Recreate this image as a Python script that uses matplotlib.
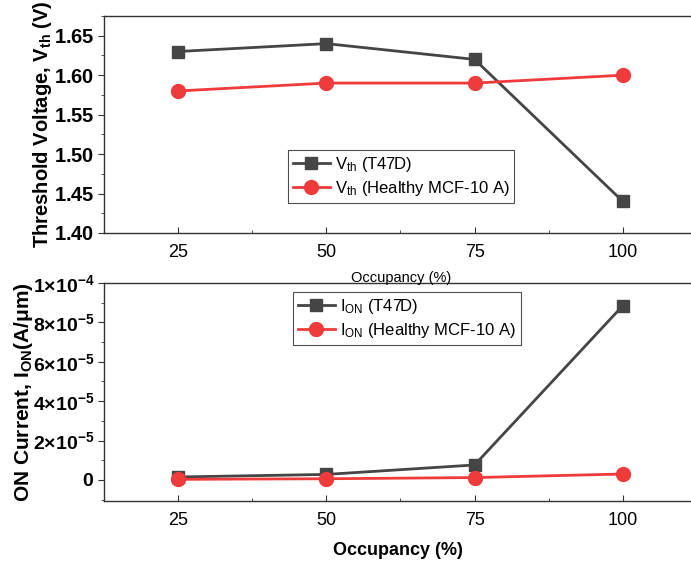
import matplotlib
matplotlib.use("Agg")
import math
import matplotlib.pyplot as plt
from matplotlib.ticker import MultipleLocator, FuncFormatter

plt.rcParams['font.family'] = ['Liberation Sans', 'DejaVu Sans']
plt.rcParams['mathtext.fontset'] = 'custom'
plt.rcParams['mathtext.rm'] = 'Liberation Sans'
plt.rcParams['mathtext.it'] = 'Liberation Sans:italic'
plt.rcParams['mathtext.bf'] = 'Liberation Sans:bold'

occupancy = [25, 50, 75, 100]
vth_t47d = [1.63, 1.64, 1.62, 1.44]
vth_healthy = [1.58, 1.59, 1.59, 1.60]
ion_t47d = [1.5e-6, 2.8e-6, 7.6e-6, 8.85e-5]
ion_healthy = [0.3e-6, 0.6e-6, 1.2e-6, 3.0e-6]
x_ticks = [25, 50, 75, 100]

GREY = '#454545'
RED = '#ef3b3b'

fig = plt.figure(figsize=(6.91, 5.65), dpi=100)
ax1 = fig.add_axes([104/691, 1-233/565, 1-104/691, (233-16)/565])
ax2 = fig.add_axes([104/691, 1-501/565, 1-104/691, (501-283)/565])

for ax in (ax1, ax2):
    ax.spines['right'].set_visible(False)
    for s in ('left', 'top', 'bottom'):
        ax.spines[s].set_color('#333333')
        ax.spines[s].set_linewidth(1.0)
    ax.set_xlim(12.5, 111.5)
    ax.set_xticks(x_ticks)
    ax.xaxis.set_minor_locator(MultipleLocator(12.5))
    ax.tick_params(axis='x', which='major', direction='in', length=4, labelsize=13, pad=8, color='#333333')
    ax.tick_params(axis='x', which='minor', direction='in', length=2.5, color='#333333')
    ax.tick_params(axis='y', which='major', direction='out', length=4, labelsize=14.5, pad=3, color='#333333')
    ax.tick_params(axis='y', which='minor', direction='out', length=2.5, color='#333333')
    ax.tick_params(top=False, right=False, which='both')

# Top panel
ax1.plot(occupancy, vth_t47d, color=GREY, lw=2.0, marker='s', ms=9, label=r'V$_{\rm th}$ (T47D)')
ax1.plot(occupancy, vth_healthy, color=RED, lw=2.0, marker='o', ms=10, label=r'V$_{\rm th}$ (Healthy MCF-10 A)')
ax1.set_ylim(1.40, 1.675)
ax1.yaxis.set_major_locator(MultipleLocator(0.05))
ax1.yaxis.set_minor_locator(MultipleLocator(0.025))
ax1.yaxis.set_major_formatter(FuncFormatter(lambda v, p: r'$\mathbf{%.2f}$' % v))
ax1.set_ylabel(r'Threshold Voltage, $\mathbf{V_{th}}$ (V)', fontsize=14.5, fontweight='bold', labelpad=0)
leg1 = ax1.legend(loc='upper left', bbox_to_anchor=((288-104)/587, (233-150)/217), fontsize=12,
                  frameon=True, fancybox=False, edgecolor='#222222', borderpad=0.3,
                  handlelength=2.2, handletextpad=0.3, labelspacing=0.3, borderaxespad=0)
leg1.get_frame().set_linewidth(0.8)
fig.text(401/691, 1-278/565, 'Occupancy (%)', fontsize=10.5, ha='center', va='center')

# Bottom panel
ax2.plot(occupancy, ion_t47d, color=GREY, lw=2.0, marker='s', ms=9, label=r'I$_{\rm ON}$ (T47D)')
ax2.plot(occupancy, ion_healthy, color=RED, lw=2.0, marker='o', ms=10, label=r'I$_{\rm ON}$ (Healthy MCF-10 A)')
ax2.set_ylim(-1.07e-5, 1e-4)
ax2.yaxis.set_major_locator(MultipleLocator(2e-5))
ax2.yaxis.set_minor_locator(MultipleLocator(1e-5))

def sci(v, p):
    if abs(v) < 1e-12:
        return r'$\mathbf{0}$'
    e = int(math.floor(math.log10(abs(v)) + 1e-9))
    m = round(v / 10**e)
    return r'$\mathbf{%d{\times}10^{%d}}$' % (m, e)

ax2.yaxis.set_major_formatter(FuncFormatter(sci))
ax2.tick_params(axis='y', which='major', labelsize=14)
ax2.set_ylabel(r'ON Current, $\mathbf{I_{ON}(A/\mu m)}$', fontsize=15, fontweight='bold', labelpad=-2)
ax2.set_xlabel('Occupancy (%)', fontsize=13, fontweight='bold', labelpad=9)
leg2 = ax2.legend(loc='upper left', bbox_to_anchor=((293-104)/587, (501-292)/218), fontsize=12,
                  frameon=True, fancybox=False, edgecolor='#222222', borderpad=0.3,
                  handlelength=2.2, handletextpad=0.3, labelspacing=0.3, borderaxespad=0)
leg2.get_frame().set_linewidth(0.8)

fig.savefig('out.png', dpi=100)
